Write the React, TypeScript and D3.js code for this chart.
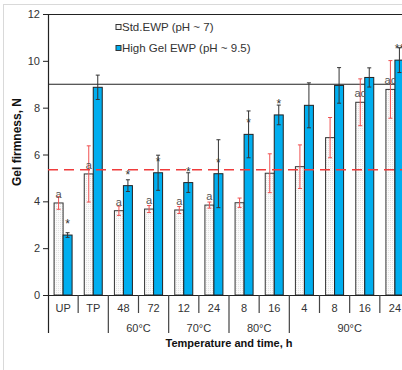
import React from "react";
import * as d3 from "d3";

// categories along the x axis
const categories = ["UP", "TP", "48", "72", "12", "24", "8", "16", "4", "8", "16", "24"];
// temperature groups: label, first index, last index
const groups: [string, number, number][] = [
  ["60°C", 2, 3],
  ["70°C", 4, 5],
  ["80°C", 6, 7],
  ["90°C", 8, 11],
];
const stdValues = [3.93, 5.17, 3.6, 3.67, 3.63, 3.84, 3.94, 5.2, 5.48, 6.72, 8.23, 8.78];
const stdErrors = [0.27, 1.2, 0.2, 0.15, 0.15, 0.13, 0.2, 0.83, 0.93, 0.86, 1.0, 1.23];
const highValues = [2.56, 8.87, 4.67, 5.22, 4.8, 5.18, 6.86, 7.69, 8.1, 8.95, 9.29, 10.03];
const highErrors = [0.1, 0.52, 0.25, 0.75, 0.42, 1.45, 1.0, 0.42, 0.96, 0.76, 0.41, 0.53];
const stdMarks = ["a", "a", "a", "a", "a", "a", "", "", "", "", "ac", "ac"];
const highMarks = ["*", "", "*", "*", "*", "*", "*", "*", "", "", "", "**"];
const yTicks = [0, 2, 4, 6, 8, 10, 12];
const refBlack = 9;
const refRed = 5.35;
const seriesNames = ["Std.EWP (pH ~ 7)", "High Gel EWP (pH ~ 9.5)"];

const W = 402;
const H = 370;
const left = 48;
const top = 14;
const bottom = 295;
const BLUE = "#00aeef";
const FONT = "Liberation Sans, Arial, sans-serif";

export default function App() {
  const x = d3.scaleBand<number>().domain(d3.range(categories.length)).range([left, 410]);
  const y = d3.scaleLinear().domain([0, 12]).range([bottom, top]);
  const bw = 9;
  const bandW = x.bandwidth();
  const xs = (i: number) => (x(i) as number) + bandW / 2 - bw; // white bar left
  const xh = (i: number) => (x(i) as number) + bandW / 2; // blue bar left
  const longTicks = new Set([2, 4, 6, 8]);

  const errBar = (cx: number, v: number, e: number, color: string, key: string) => (
    <g key={key} stroke={color} strokeWidth={1}>
      <line x1={cx} x2={cx} y1={y(v + e)} y2={y(v - e)} />
      <line x1={cx - 2} x2={cx + 2} y1={y(v + e)} y2={y(v + e)} />
      <line x1={cx - 2} x2={cx + 2} y1={y(v - e)} y2={y(v - e)} />
    </g>
  );

  return (
    <svg width={W} height={H} style={{ position: "absolute", left: 0, top: 0, background: "#fff" }} fontFamily={FONT}>
      <defs>
        <pattern id="dots" width={2} height={2} patternUnits="userSpaceOnUse">
          <rect width={2} height={2} fill="#fbfbfb" />
          <rect width={1} height={1} fill="#e2e2e2" />
        </pattern>
      </defs>
      {/* outer frame */}
      <line x1={3.5} x2={3.5} y1={4} y2={H} stroke="#d9d9d9" />
      <line x1={3.5} x2={W} y1={4.5} y2={4.5} stroke="#d9d9d9" />

      {/* plot top border */}
      <line x1={left - 5} x2={W} y1={top + 0.5} y2={top + 0.5} stroke="#222" strokeWidth={1.2} />

      {/* y axis */}
      <line x1={left + 0.5} x2={left + 0.5} y1={top} y2={333} stroke="#222" strokeWidth={1.2} />
      {yTicks.map((t) => (
        <g key={t}>
          <line x1={left - 5} x2={left} y1={y(t) + 0.5} y2={y(t) + 0.5} stroke="#222" />
          <text x={left - 8} y={y(t) + 4} textAnchor="end" fontSize={11} fill="#333">
            {t}
          </text>
        </g>
      ))}
      <text
        transform={`translate(${21},${142}) rotate(-90)`}
        textAnchor="middle"
        fontSize={12}
        fontWeight="bold"
        fill="#111"
      >
        Gel firmness, N
      </text>

      {/* reference lines behind bars */}
      <line x1={left} x2={W} y1={y(refBlack)} y2={y(refBlack)} stroke="#222" strokeWidth={1.2} />

      {/* bars */}
      {categories.map((c, i) => (
        <g key={"b" + i}>
          <rect x={xs(i)} y={y(stdValues[i])} width={bw} height={bottom - y(stdValues[i])} fill="url(#dots)" stroke="#333" strokeWidth={1} />
          <rect x={xh(i)} y={y(highValues[i])} width={bw} height={bottom - y(highValues[i])} fill={BLUE} stroke="#222" strokeWidth={1} />
        </g>
      ))}
      {categories.map((c, i) => errBar(xs(i) + bw / 2, stdValues[i], stdErrors[i], "#f05050", "es" + i))}
      {categories.map((c, i) => errBar(xh(i) + bw / 2, highValues[i], highErrors[i], "#333", "eh" + i))}

      <line x1={left} x2={W} y1={y(refRed)} y2={y(refRed)} stroke="#f03c3c" strokeWidth={1.6} strokeDasharray="10,6" />

      {/* marks */}
      {stdMarks.map((m, i) =>
        m ? (
          <text key={"ms" + i} x={xs(i) + bw / 2} y={y(stdValues[i]) - 5} textAnchor="middle" fontSize={11} fill="#555">
            {m}
          </text>
        ) : null
      )}
      {highMarks.map((m, i) =>
        m ? (
          <text key={"mh" + i} x={xh(i) + bw / 2} y={y(highValues[i]) - 7} textAnchor="middle" fontSize={12} fill="#333">
            {m}
          </text>
        ) : null
      )}

      {/* x axis */}
      <line x1={left} x2={W} y1={bottom + 0.5} y2={bottom + 0.5} stroke="#222" strokeWidth={1.2} />
      {categories.map((c, i) =>
        i === 0 ? null : (
          <line key={"t" + i} x1={(x(i) as number)} x2={(x(i) as number)} y1={bottom} y2={longTicks.has(i) ? 333 : 313} stroke="#444" strokeWidth={1.2} />
        )
      )}
      {categories.map((c, i) => (
        <text key={"c" + i} x={(x(i) as number) + bandW / 2} y={312} textAnchor="middle" fontSize={11} fill="#333">
          {c}
        </text>
      ))}
      {groups.map(([g, a, b]) => (
        <text key={g} x={((x(a) as number) + (x(b) as number) + bandW) / 2} y={332} textAnchor="middle" fontSize={11} fill="#333">
          {g}
        </text>
      ))}
      <text x={229} y={347} textAnchor="middle" fontSize={11} fontWeight="bold" fill="#111">
        Temperature and time, h
      </text>

      {/* legend */}
      {seriesNames.map((s, i) => (
        <g key={s} transform={`translate(116,${27 + i * 21})`}>
          <rect x={0} y={-2.5} width={5} height={5} fill={i === 0 ? "#f6f6f6" : BLUE} stroke="#333" strokeWidth={1} />
          <text x={6} y={4} fontSize={11.5} fill="#333">
            {s}
          </text>
        </g>
      ))}
    </svg>
  );
}
